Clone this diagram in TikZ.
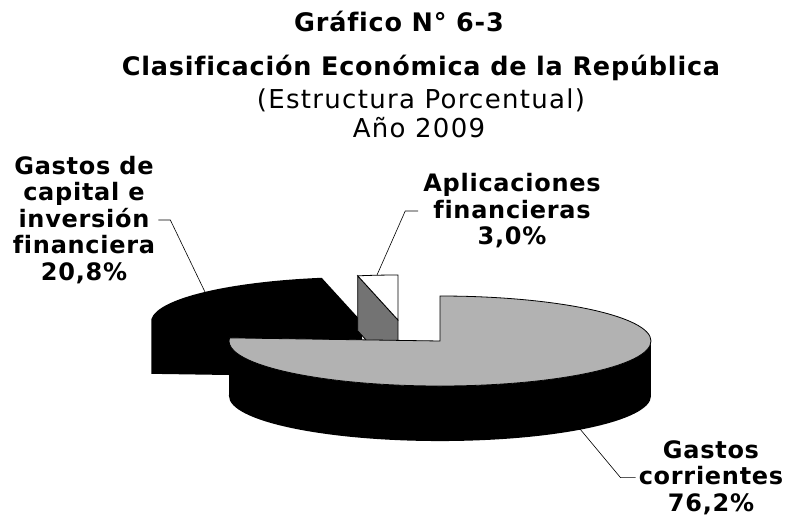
\documentclass[tikz,border=0pt]{standalone}
\usepackage{fontspec}
\setmainfont{DejaVu Sans}
\newfontfamily\chartfont{DejaVu Sans}[LetterSpace=3, Ligatures=NoCommon]
\newfontfamily\subfont{DejaVu Sans}[LetterSpace=5, Ligatures=NoCommon]

\begin{document}
\begin{tikzpicture}[x=1pt, y=-1pt,
  ttl/.style={font=\chartfont\bfseries\fontsize{25.5}{28}\selectfont, inner sep=0pt, anchor=base},
  subttl/.style={font=\subfont\fontsize{26}{28}\selectfont, inner sep=0pt, anchor=base},
  lbl/.style={font=\chartfont\bfseries\fontsize{24}{26.5}\selectfont, align=center, inner sep=0pt},
  leader/.style={draw=black, line width=0.6pt},
  pieline/.style={draw=black, line width=0.8pt}]
\useasboundingbox (0,0) rectangle (786,516);
\fill[white] (0,0) rectangle (786,516);

\node[ttl] (tnum) at (399,32) {Gráfico N° 6-3};
\node[ttl] (tname) at (421,76) {Clasificación Económica de la República};
\node[subttl] (tunit) at (421,109) {(Estructura Porcentual)};
\node[subttl] (tyear) at (419,137) {Año 2009};

% capital slice
\fill[black] (362,322) -- (321.7,277.8) arc[start angle=-101, end angle=-176, x radius=211, y radius=45]
  -- ++(0,55) -- (362,377) -- cycle;

% aplicaciones slice
\filldraw[pieline, fill=black!55] (398,320) -- (357.7,275.8) -- (357.7,330.8) -- (398,375) -- cycle;
\filldraw[pieline, fill=white] (398,320) -- (398,275) arc[start angle=-90, end angle=-101, x radius=211, y radius=45] -- cycle;

% corrientes slice
\fill[black] (229.5,337.9) arc[start angle=-176, end angle=-360, x radius=211, y radius=45]
  -- ++(0,55) arc[start angle=0, end angle=180, x radius=211, y radius=45] -- cycle;
\filldraw[pieline, fill=black!30] (440,341) -- (440,296) arc[start angle=-90, end angle=184, x radius=211, y radius=45] -- cycle;

\node[lbl] (capLbl) at (84,220) {Gastos de\\capital e\\inversión\\financiera\\20,8\%};
\node[lbl] (appLbl) at (512,211) {Aplicaciones\\financieras\\3,0\%};
\node[lbl, anchor=south] (corLbl) at (711,515) {Gastos\\corrientes\\76,2\%};

\coordinate (capEnd) at (205,292);
\coordinate (appEnd) at (377,275);
\coordinate (corEnd) at (580,429);

\draw[leader] ([xshift=3pt]capLbl.east) -- ++(12,0) -- (capEnd);
\draw[leader] ([xshift=-5pt]appLbl.west) -- ++(-13,0) -- (appEnd);
\draw[leader] ([xshift=-3pt]corLbl.west) -- ++(-15,0) -- (corEnd);

\end{tikzpicture}
\end{document}
